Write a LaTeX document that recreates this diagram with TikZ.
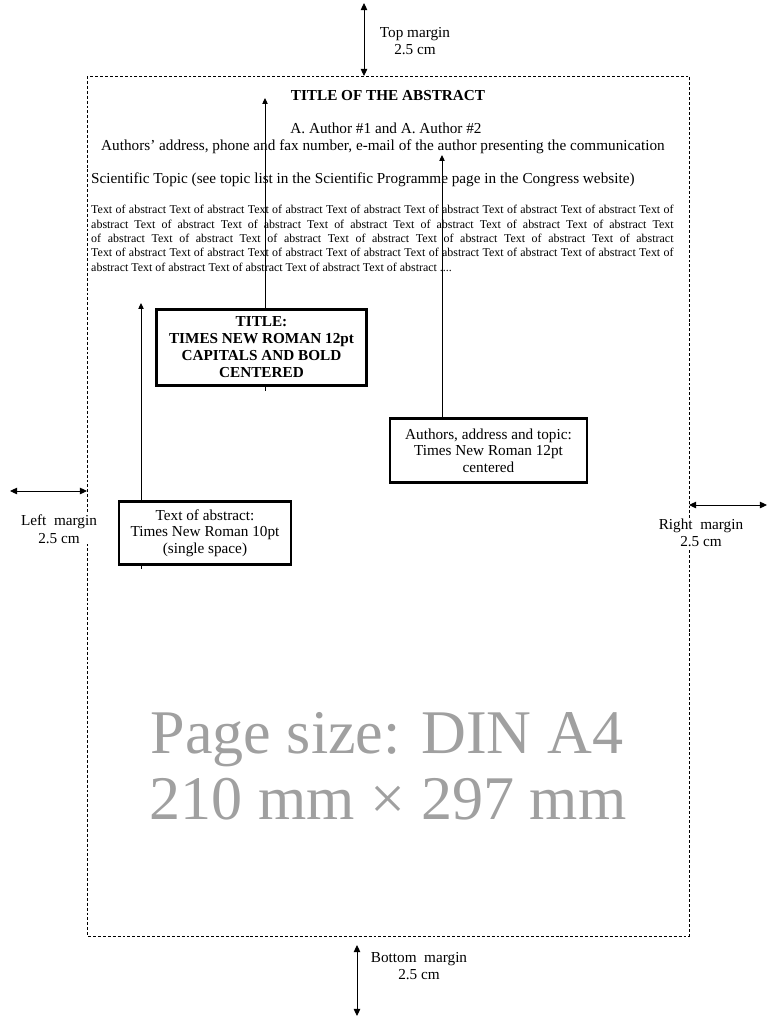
\documentclass[tikz,border=0pt]{standalone}
\usepackage{fontspec}
\setmainfont{Liberation Serif}
\usetikzlibrary{arrows.meta}
\definecolor{SizeGray}{HTML}{A0A0A0}
\tikzset{note/.style={draw,line width=2.2pt,fill=white,align=center,inner sep=0pt,font=\fontsize{13}{14.2}\selectfont},headline/.style={anchor=base,inner sep=0pt,font=\fontsize{13}{14.5}\selectfont},lbl/.style={align=center,inner sep=1pt,fill=white,font=\fontsize{13}{15}\selectfont},sizetext/.style={anchor=base,inner sep=0pt,text=SizeGray,font=\fontsize{53}{54}\selectfont},marr/.style={{Triangle[length=6pt,width=5.5pt]}-{Triangle[length=6pt,width=5.5pt]},line width=0.8pt},parr/.style={-{Triangle[length=5pt,width=4.5pt]},line width=0.8pt},stub/.style={line width=0.8pt},pageframe/.style={dash pattern=on 2.5pt off 1.7pt,line width=0.7pt}}
\begin{document}
\begin{tikzpicture}[x=0.03cm,y=-0.03cm]
\useasboundingbox (0,0) rectangle (768,1024);
\coordinate (frameNW) at (87,76); \coordinate (frameSE) at (689,936);
\draw[pageframe] (frameNW) rectangle (frameSE);
\coordinate (topend) at (364,3); \coordinate (bottomstart) at (357,945); \coordinate (bottomend) at (357,1016);
\coordinate (leftend) at (10,491); \coordinate (rightend) at (767,505);
\draw[marr] (topend) -- (topend |- frameNW);
\draw[marr] (bottomstart) -- (bottomend);
\draw[marr] (leftend) -- (leftend -| frameNW);
\draw[marr] (rightend -| frameSE) -- (rightend);
\node[lbl] (toplbl) at (415,41) {Top margin\\2.5 cm};
\node[lbl] (leftlbl) at (59,529) {Left\ \ margin\\2.5 cm};
\node[lbl] (rightlbl) at (701,533) {Right\ \ margin\\2.5 cm};
\node[lbl] (bottomlbl) at (419,966) {Bottom\ \ margin\\2.5 cm};
\node[headline,font=\fontsize{13}{14.5}\selectfont\bfseries] (abstitle) at (388,100) {TITLE OF THE ABSTRACT};
\node[headline] (authors) at (386,133) {A. Author \#1 and A. Author \#2};
\node[headline] (address) at (383,150) {Authors’ address, phone and fax number, e-mail of the author presenting the communication};
\node[headline,anchor=base west] (topic) at (91,183) {Scientific Topic (see topic list in the Scientific Programme page in the Congress website)};
\node[anchor=north west,inner sep=0pt,text width=497pt,align=justify,font=\fontsize{10.2}{12.25}\selectfont] (abstext) at (91,205) {Text of abstract Text of abstract Text of abstract Text of abstract Text of abstract Text of abstract Text of abstract Text of\linebreak abstract Text of abstract Text of abstract Text of abstract Text of abstract Text of abstract Text of abstract Text\linebreak of abstract Text of abstract Text of abstract Text of abstract Text of abstract Text of abstract Text of abstract\linebreak Text of abstract Text of abstract Text of abstract Text of abstract Text of abstract Text of abstract Text of abstract Text of\linebreak abstract Text of abstract Text of abstract Text of abstract Text of abstract ....};
\node[note,font=\fontsize{13}{14.5}\selectfont\bfseries,minimum width=179pt,minimum height=65pt] (titlebox) at (261.5,347.5) {TITLE:\\TIMES NEW ROMAN 12pt\\CAPITALS AND BOLD\\CENTERED};
\node[note,minimum width=147pt,minimum height=54pt] (textbox) at (205,533) {Text of abstract:\\Times New Roman 10pt\\(single space)};
\node[note,minimum width=168pt,minimum height=55pt] (authorbox) at (488.5,450.5) {Authors, address and topic:\\Times New Roman 12pt\\centered};
\coordinate (titletip) at (265,98); \coordinate (texttip) at (141,303); \coordinate (authortip) at (442,155);
\draw[parr] (titlebox.north -| titletip) -- (titletip); \draw[stub] (titlebox.south -| titletip) -- ++(0,4);
\draw[parr] (textbox.north -| texttip) -- (texttip); \draw[stub] (textbox.south -| texttip) -- ++(0,3);
\draw[parr] (authorbox.north -| authortip) -- (authortip);
\node[sizetext] (sizeA) at (387,753) {Page size: DIN A4};
\node[sizetext] (sizeB) at (388,819) {210 mm × 297 mm};
\end{tikzpicture}
\end{document}
